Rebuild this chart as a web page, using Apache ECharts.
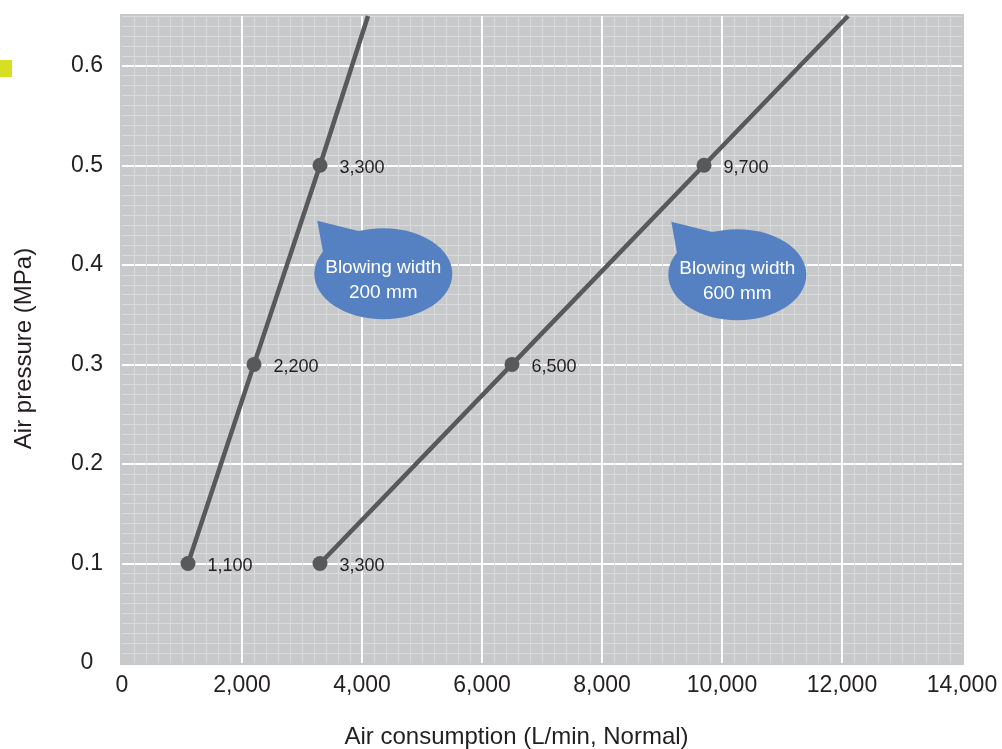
<!DOCTYPE html>
<html><head><meta charset="utf-8">
<script src="https://cdn.jsdelivr.net/npm/echarts@6/dist/echarts.min.js"></script>
<style>html,body{margin:0;padding:0;background:#fff}#c{width:1002px;height:749px}</style>
</head><body><div id="c"></div>
<script>
// ---- data ----
const width200X = [1100, 2200, 3300];
const width200Y = [0.1, 0.3, 0.5];
const width600X = [3300, 6500, 9700];
const width600Y = [0.1, 0.3, 0.5];
// where each drawn line leaves the top of the plot
const lineEndX = [4100, 12100];
const lineEndY = [0.65, 0.65];
const calloutLabels = ['Blowing width\n200 mm', 'Blowing width\n600 mm'];
const calloutX = [4355, 10255];
const calloutY = [0.391, 0.39];
const xTicks = [0, 2000, 4000, 6000, 8000, 10000, 12000, 14000];
const yTicks = [0, 0.1, 0.2, 0.3, 0.4, 0.5, 0.6];
const xMinorStep = 200;
const yMinorStep = 0.01;
const yMax = 0.65;
const xTitle = 'Air consumption (L/min, Normal)';
const yTitle = 'Air pressure (MPa)';

const FONT = "'Liberation Sans', Arial, sans-serif";
const TXT = '#231F20';
const LINE = '#58595B';
const BLUE = '#5580C1';
const MINOR = '#D9DADC';

function buildLine(xs, ys, ex, ey) {
  const d = xs.map((x, i) => [x, ys[i]]);
  d.push({ value: [ex, ey], symbol: 'none', label: { show: false } });
  return d;
}

const chart = echarts.init(document.getElementById('c'), null, { renderer: 'canvas' });

const lineSeries = (data) => ({
  type: 'line',
  xAxisIndex: 1, yAxisIndex: 1,
  data: data,
  symbol: 'circle',
  symbolSize: 15,
  lineStyle: { color: LINE, width: 4.5 },
  itemStyle: { color: LINE },
  label: {
    show: true, position: 'right', distance: 12, offset: [0, 3],
    color: TXT, fontSize: 18, fontFamily: FONT,
    formatter: p => p.value[0].toLocaleString('en-US')
  },
  z: 5,
  animation: false
});

chart.setOption({
  animation: false,
  grid: {
    left: 122, right: 40, top: 16, bottom: 86,
    outerBoundsMode: 'none', containLabel: false,
    show: true, backgroundColor: '#C8C9CB', borderColor: '#C8C9CB', borderWidth: 4
  },
  xAxis: [
    { type: 'value', min: xTicks[0], max: xTicks[xTicks.length - 1], interval: xMinorStep,
      position: 'bottom',
      axisLine: { show: false }, axisTick: { show: false }, axisLabel: { show: false },
      splitLine: { show: true, showMinLine: false, showMaxLine: false, lineStyle: { color: MINOR, width: 1 } } },
    { type: 'value', min: xTicks[0], max: xTicks[xTicks.length - 1], interval: xTicks[1] - xTicks[0],
      position: 'bottom',
      axisLine: { show: false }, axisTick: { show: false },
      axisLabel: { color: TXT, fontSize: 23, fontFamily: FONT, margin: 11,
        formatter: v => v.toLocaleString('en-US') },
      splitLine: { show: true, showMinLine: false, showMaxLine: false, lineStyle: { color: '#FFFFFF', width: 2 } },
      name: xTitle, nameLocation: 'middle', nameGap: 62,
      nameTextStyle: { color: TXT, fontSize: 24, fontFamily: FONT, padding: [0, 51, 0, 0] } }
  ],
  yAxis: [
    { type: 'value', min: yTicks[0], max: yMax, interval: yMinorStep, position: 'left',
      axisLine: { show: false }, axisTick: { show: false }, axisLabel: { show: false },
      splitLine: { show: true, showMinLine: false, showMaxLine: true, lineStyle: { color: MINOR, width: 1 } } },
    { type: 'value', min: yTicks[0], max: yMax, interval: yTicks[1] - yTicks[0], position: 'left',
      axisLine: { show: false }, axisTick: { show: false },
      axisLabel: { color: TXT, fontSize: 23, fontFamily: FONT, margin: 35, align: 'center',
        showMaxLabel: false,
        formatter: v => (v === 0 ? '0' : v.toFixed(1)) },
      splitLine: { show: true, showMinLine: false, showMaxLine: false, lineStyle: { color: '#FFFFFF', width: 2 } },
      name: yTitle, nameLocation: 'middle', nameGap: 86, nameRotate: 90,
      nameTextStyle: { color: TXT, fontSize: 24, fontFamily: FONT, padding: [0, 18, 0, 0] } }
  ],
  graphic: [
    { type: 'rect', left: 0, top: 60, shape: { width: 12, height: 17 }, style: { fill: '#D7DF23' } }
  ],
  series: [
    lineSeries(buildLine(width200X, width200Y, lineEndX[0], lineEndY[0])),
    lineSeries(buildLine(width600X, width600Y, lineEndX[1], lineEndY[1])),
    {
      type: 'custom',
      xAxisIndex: 1, yAxisIndex: 1,
      data: calloutX.map((x, i) => [x, calloutY[i]]),
      z: 6,
      renderItem: function (params, api) {
        const p = api.coord([api.value(0), api.value(1)]);
        const cx = p[0], cy = p[1];
        return {
          type: 'group',
          children: [
            { type: 'polygon', shape: { points: [[cx - 66, cy - 53], [cx - 22, cy - 42], [cx - 60, cy - 20]] },
              style: { fill: BLUE } },
            { type: 'ellipse', shape: { cx: cx, cy: cy, rx: 69, ry: 45.5 }, style: { fill: BLUE } },
            { type: 'text', x: cx, y: cy + 6,
              style: { text: calloutLabels[params.dataIndex], fill: '#FFFFFF', fontSize: 19,
                fontFamily: FONT, align: 'center', verticalAlign: 'middle', lineHeight: 25 } }
          ]
        };
      }
    }
  ]
});
</script>
</body></html>
